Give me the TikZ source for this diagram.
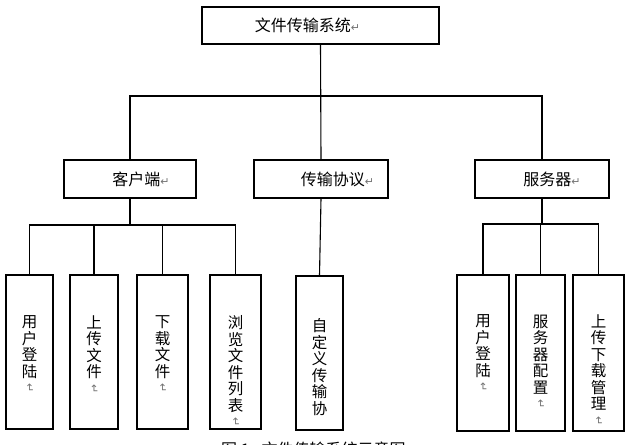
\documentclass[tikz,border=0pt]{standalone}
\usepackage{fontspec}
\usepackage{graphicx}
\setmainfont{Noto Sans CJK SC}
\newfontfamily\symfont{DejaVu Sans}
\definecolor{retgray}{gray}{0.45}
\newcommand{\retmark}{{\symfont\fontsize{11}{11}\selectfont\color{retgray}↵}}
\newcommand{\vretmark}{{\symfont\fontsize{11}{11}\selectfont\color{retgray}\rotatebox[origin=c]{-90}{↵}}}
\tikzset{
  conn/.style={draw=black, line width=1.1pt},
  hbox/.style={draw=black, line width=1.1pt, minimum height=38pt, inner sep=0pt,
    font=\fontsize{16}{16}\selectfont},
  vbox/.style={draw=black, line width=1.1pt, minimum height=154pt, inner sep=0pt},
  vtext/.style={anchor=north, inner sep=0pt, align=center,
    font=\fontsize{15.5}{16.5}\selectfont},
}
\begin{document}
\begin{tikzpicture}[x=1pt,y=-1pt]
\useasboundingbox (0,0) rectangle (636,444);
% level 1
\node[hbox, minimum width=237pt, minimum height=37pt] (top) at (320.5,25.5) {文件传输系统\retmark\hspace*{26pt}};
% level 2
\node[hbox, minimum width=132pt] (client) at (130,179) {\hspace*{22pt}客户端\retmark};
\node[hbox, minimum width=134pt] (proto) at (321,179) {\hspace*{33pt}传输协议\retmark};
\node[hbox, minimum width=134pt] (server) at (542,179) {\hspace*{20pt}服务器\retmark};
% level 3 boxes
\node[vbox, minimum width=47pt] (c1) at (29.5,352) {};
\node[vbox, minimum width=48pt] (c2) at (94,352) {};
\node[vbox, minimum width=51pt] (c3) at (162.5,352) {};
\node[vbox, minimum width=51pt] (c4) at (235.5,352) {};
\node[vbox, minimum width=47pt] (p1) at (319.5,353) {};
\node[vbox, minimum width=52pt, minimum height=156pt] (s1) at (483,353) {};
\node[vbox, minimum width=49pt, minimum height=156pt] (s2) at (540.5,353) {};
\node[vbox, minimum width=51pt, minimum height=156pt] (s3) at (598.5,353) {};
% level 3 texts
\node[vtext] (c1t) at ([yshift=-41pt]c1.north) {用\\户\\登\\陆\\[-2pt]\vretmark};
\node[vtext] (c2t) at ([yshift=-41pt]c2.north) {上\\传\\文\\件\\[-2pt]\vretmark};
\node[vtext] (c3t) at ([yshift=-41pt]c3.north) {下\\载\\文\\件\\[-2pt]\vretmark};
\node[vtext] (c4t) at ([yshift=-41pt]c4.north) {浏\\览\\文\\件\\列\\表\\[-2pt]\vretmark};
\node[vtext] (p1t) at ([yshift=-43pt]p1.north) {自\\定\\义\\传\\输\\协};
\node[vtext] (s1t) at ([yshift=-40pt]s1.north) {用\\户\\登\\陆\\[-2pt]\vretmark};
\node[vtext] (s2t) at ([yshift=-40pt]s2.north) {服\\务\\器\\配\\置\\[-2pt]\vretmark};
\node[vtext] (s3t) at ([yshift=-40pt]s3.north) {上\\传\\下\\载\\管\\理\\[-2pt]\vretmark};
% caption (cut off at the bottom edge, as in the reference)
\node[anchor=north west, inner sep=0pt, font=\fontsize{16}{16}\selectfont] (cap) at (221,441.5) {图 1\hspace{12pt}文件传输系统示意图\retmark};
% bus coordinates
\coordinate (bus1) at (322,96);
\coordinate (busc) at (130,225);
\coordinate (buss) at (542,224);
% connectors level 1 -> 2
\draw[conn] (top.south) -- (proto.north);
\draw[conn] (client.north) -- (client.north |- bus1) -- (server.north |- bus1) -- (server.north);
% client children
\draw[conn] (client.south) -- (busc);
\draw[conn] (c1.north) -- (c1.north |- busc) -- (c4.north |- busc) -- (c4.north);
\draw[conn] (c2.north) -- (c2.north |- busc);
\draw[conn] (c3.north) -- (c3.north |- busc);
% protocol child
\draw[conn] (proto.south) -- (p1.north);
% server children
\draw[conn] (server.south) -- (buss);
\draw[conn] (s1.north) -- (s1.north |- buss) -- (s3.north |- buss) -- (s3.north);
\draw[conn] (s2.north) -- (s2.north |- buss);
\end{tikzpicture}
\end{document}
